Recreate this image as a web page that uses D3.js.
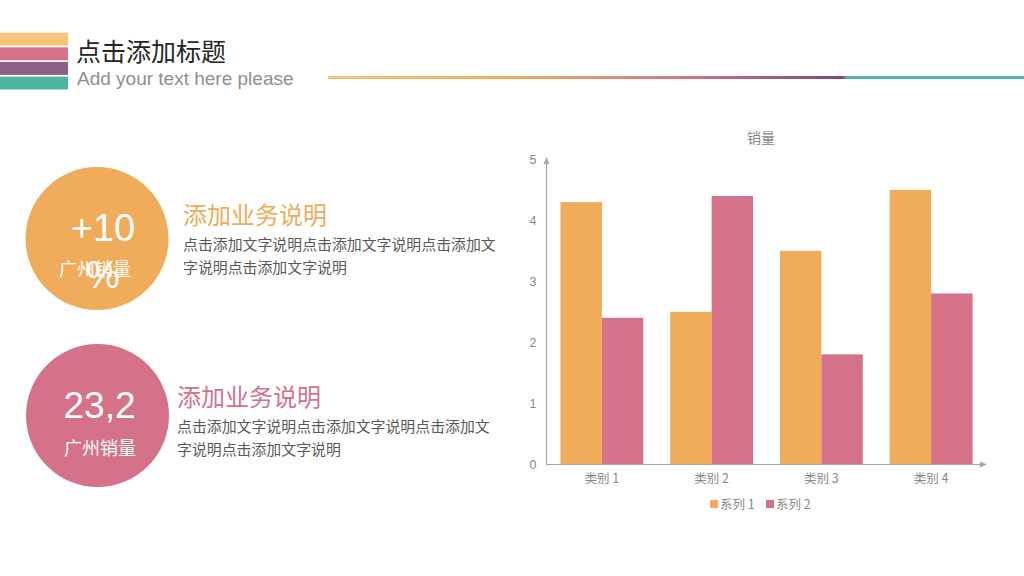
<!DOCTYPE html>
<html><head><meta charset="utf-8">
<script src="https://cdn.jsdelivr.net/npm/d3@7/dist/d3.min.js"></script>
<style>
html,body{margin:0;padding:0;background:#fff;}
svg{display:block;font-family:"Liberation Sans","Noto Sans CJK SC",sans-serif;}
</style></head>
<body>
<svg id="c" width="1024" height="576"></svg>
<script>
const categories = ["类别 1","类别 2","类别 3","类别 4"];
const seriesNames = ["系列 1","系列 2"];
const series1 = [4.3, 2.5, 3.5, 4.5];
const series2 = [2.4, 4.4, 1.8, 2.8];
const yTicks = [0,1,2,3,4,5];
const chartTitle = "销量";
const stripeColors = ["#F7C479","#D5728A","#8B5F87","#50B4A3"];
const colors = ["#F0AC5A","#D5728A"];

const svg = d3.select("#c");
const cjk = '"Noto Sans CJK SC","Liberation Sans",sans-serif';

// header stripes
const stripeY = d3.scaleBand().domain(d3.range(4)).range([32.7, 89.5]).paddingInner(0.12);
svg.selectAll("rect.stripe").data(stripeColors).enter().append("rect")
  .attr("x",0).attr("y",(d,i)=>stripeY(i)).attr("width",68).attr("height",stripeY.bandwidth()).attr("fill",d=>d);

svg.append("text").attr("x",76).attr("y",61).attr("font-size",25).attr("fill","#262626")
  .style("font-family",cjk).text("点击添加标题");
svg.append("text").attr("x",77).attr("y",84.5).attr("font-size",19).attr("fill","#8f8f8f")
  .text("Add your text here please");

// gradient line
const defs = svg.append("defs");
const lg = defs.append("linearGradient").attr("id","hg").attr("gradientUnits","userSpaceOnUse")
  .attr("x1",328).attr("x2",1024).attr("y1",0).attr("y2",0);
[[0,"#F6C37C"],[0.26,"#F0AC5A"],[0.49,"#D77A86"],[0.74,"#7A4C70"],[0.745,"#50B4A3"],[1,"#50B4A3"]]
  .forEach(s=>lg.append("stop").attr("offset",s[0]).attr("stop-color",s[1]));
svg.append("rect").attr("x",328).attr("y",76).attr("width",696).attr("height",3).attr("fill","url(#hg)");

// circles
const circ = [
  {cx:97,cy:238.5,color:colors[0]},
  {cx:97.5,cy:415.5,color:colors[1]}
];
svg.selectAll("circle.stat").data(circ).enter().append("circle")
  .attr("cx",d=>d.cx).attr("cy",d=>d.cy).attr("r",71.5).attr("fill",d=>d.color);

// circle 1 text (the reference shows the wrapped "%" overlapping the caption)
svg.append("text").attr("x",103).attr("y",241).attr("text-anchor","middle").attr("font-size",38).attr("fill","#fff").text("+10");
svg.append("text").attr("x",95).attr("y",276).attr("text-anchor","middle").attr("font-size",18).attr("fill","#fff").style("font-family",cjk).text("广州销量");
svg.append("text").attr("x",103).attr("y",288).attr("text-anchor","middle").attr("font-size",38).attr("fill","#fff").text("%");
// circle 2 text
svg.append("text").attr("x",99.5).attr("y",418).attr("text-anchor","middle").attr("font-size",37).attr("fill","#fff").text("23,2");
svg.append("text").attr("x",100).attr("y",455).attr("text-anchor","middle").attr("font-size",18).attr("fill","#fff").style("font-family",cjk).text("广州销量");

// descriptions
const desc = [
  {x:183,hy:224,by:250,color:colors[0]},
  {x:177,hy:406,by:432,color:colors[1]}
];
desc.forEach(d=>{
  svg.append("text").attr("x",d.x).attr("y",d.hy).attr("font-size",24).attr("fill",d.color).style("font-family",cjk).text("添加业务说明");
  const t = svg.append("text").attr("font-size",14.9).attr("fill","#595959").style("font-family",cjk);
  t.append("tspan").attr("x",d.x).attr("y",d.by).text("点击添加文字说明点击添加文字说明点击添加文");
  t.append("tspan").attr("x",d.x).attr("y",d.by+22.5).text("字说明点击添加文字说明");
});

// chart
const x0 = d3.scaleBand().domain(categories).range([547,986]).paddingInner(0.245).paddingOuter(0.1225);
const x1 = d3.scaleBand().domain([0,1]).range([0,x0.bandwidth()]);
const y = d3.scaleLinear().domain([0,5]).range([464,159.5]);
const axisColor = "#a6a6a6";
const txtColor = "#898989";

const groups = svg.append("g").selectAll("g").data(categories).enter().append("g")
  .attr("transform",d=>`translate(${x0(d)},0)`);
groups.selectAll("rect").data((d,i)=>[series1[i],series2[i]]).enter().append("rect")
  .attr("x",(d,j)=>x1(j)).attr("width",x1.bandwidth())
  .attr("y",d=>y(d)).attr("height",d=>y(0)-y(d)).attr("fill",(d,j)=>colors[j]);

// y axis
const yAxis = svg.append("g").attr("transform","translate(546.5,0)")
  .call(d3.axisLeft(y).tickValues(yTicks).tickFormat(d3.format("d")).tickSize(0).tickPadding(10));
yAxis.select(".domain").remove();
yAxis.selectAll("text").attr("fill",txtColor).attr("font-size",12.5).style("font-family",'"Liberation Sans",sans-serif');
svg.append("line").attr("x1",546.5).attr("x2",546.5).attr("y1",464).attr("y2",162).attr("stroke",axisColor).attr("stroke-width",1.2);
svg.append("path").attr("d","M546.5,157 L543.5,164 L549.5,164 Z").attr("fill",axisColor);

// x axis
const xAxis = svg.append("g").attr("transform","translate(0,464.5)")
  .call(d3.axisBottom(x0).tickSize(0).tickPadding(10));
xAxis.select(".domain").remove();
xAxis.selectAll("text").attr("fill",txtColor).attr("font-size",12.5).style("font-family",cjk);
svg.append("line").attr("x1",546).attr("x2",982).attr("y1",464.5).attr("y2",464.5).attr("stroke",axisColor).attr("stroke-width",1.2);
svg.append("path").attr("d","M987,464.5 L980,461.5 L980,467.5 Z").attr("fill",axisColor);

// chart title
svg.append("text").attr("x",761).attr("y",143).attr("text-anchor","middle").attr("font-size",14).attr("fill",txtColor).style("font-family",cjk).text(chartTitle);

// legend
const legX = [710,766];
const leg = svg.append("g").selectAll("g").data(seriesNames).enter().append("g")
  .attr("transform",(d,i)=>`translate(${legX[i]},504)`);
leg.append("rect").attr("x",0).attr("y",-4).attr("width",8).attr("height",8).attr("fill",(d,i)=>colors[i]);
leg.append("text").attr("x",10).attr("y",4.5).attr("font-size",12.5).attr("fill",txtColor).style("font-family",cjk).text(d=>d);
</script>
</body></html>
